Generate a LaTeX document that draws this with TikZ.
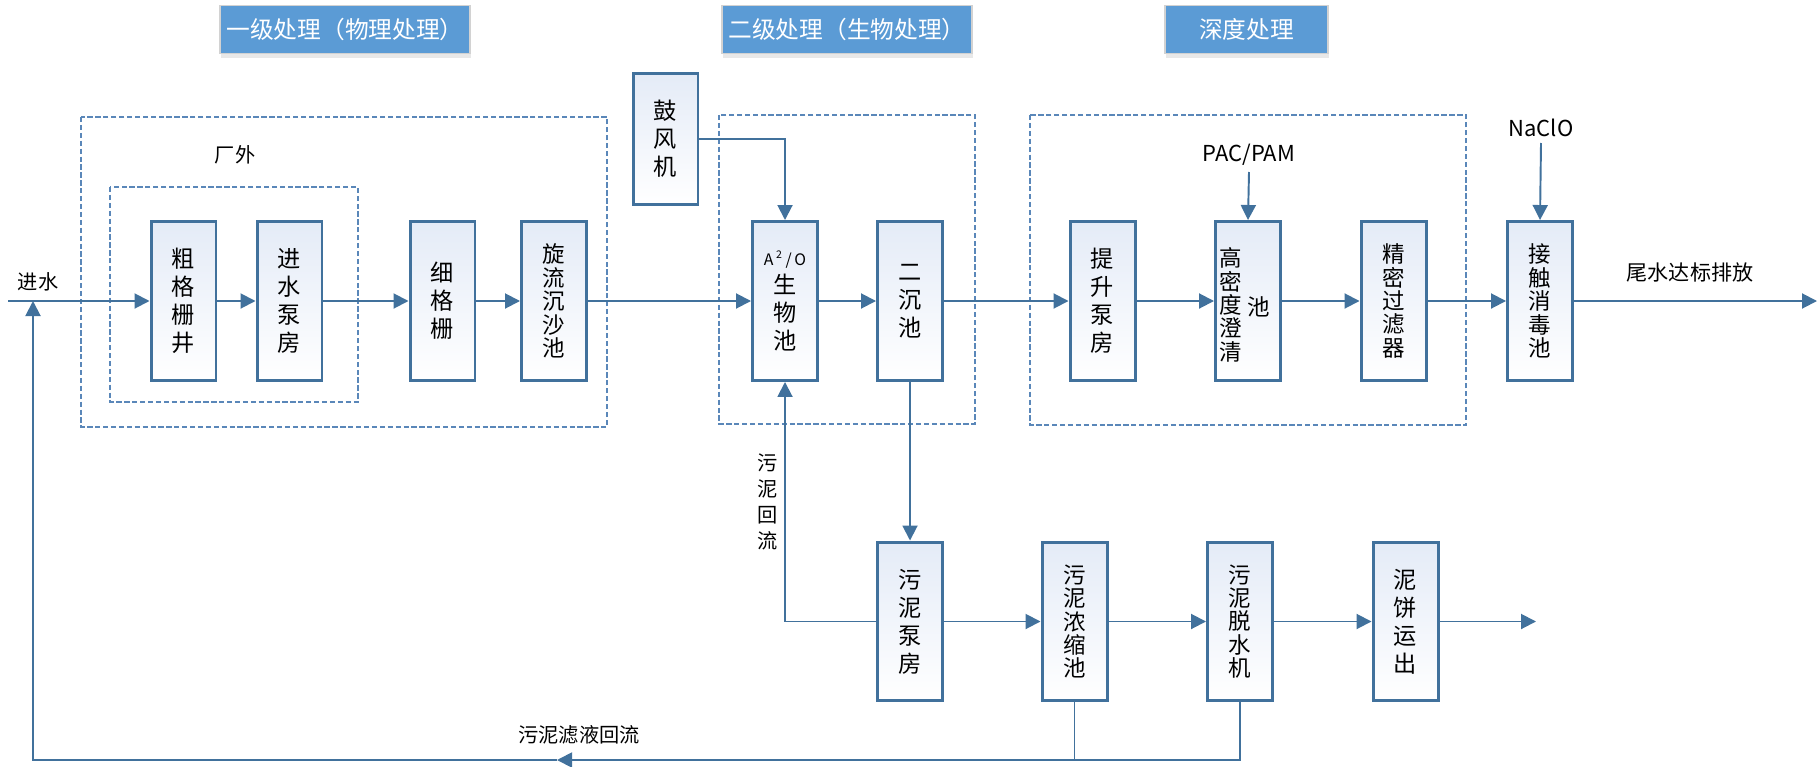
\documentclass[tikz,border=0pt]{standalone}
\usepackage{fontspec}
\setmainfont{Noto Sans CJK SC}
\usetikzlibrary{positioning}
\usetikzlibrary{arrows.meta}
\usetikzlibrary{shadows}
\definecolor{lineblue}{RGB}{65,113,156}
\definecolor{titleblue}{RGB}{91,155,213}
\definecolor{dashblue}{RGB}{90,135,185}
\definecolor{boxtop}{RGB}{228,235,247}

\begin{document}
\begin{tikzpicture}[
  x=0.02cm, y=-0.02cm,
  proc/.style={
    draw=lineblue, line width=1.7pt,
    top color=boxtop, bottom color=white,
    minimum width=1.3cm, minimum height=3.18cm,
    inner sep=0pt, align=center,
    font=\fontsize{13.2}{15.9}\selectfont
  },
  tight/.style={font=\fontsize{12.8}{13.3}\selectfont},
  title/.style={
    fill=titleblue, draw=gray!35, line width=0.8pt,
    text=white, minimum height=0.96cm, inner sep=0pt,
    font=\fontsize{13.5}{15}\selectfont,
    drop shadow={opacity=0.18, shadow xshift=0.6pt, shadow yshift=-2.5pt}
  },
  zone/.style={draw=dashblue, line width=0.6pt, dash pattern=on 3pt off 1.5pt},
  arrow/.style={draw=lineblue, line width=1.1pt, -{Triangle[length=0.3cm, width=0.3cm]}},
  pipe/.style={draw=lineblue, line width=1.1pt},
  lab/.style={inner sep=0pt, font=\fontsize{11.5}{14.7}\selectfont, align=center},
  chem/.style={inner sep=0pt, font=\fontsize{12.5}{15}\selectfont}
]
\useasboundingbox (0,0) rectangle (1818,767);

% --- Stage titles ---
\node[title, minimum width=5.0cm] (T1) at (345,29.5) {一级处理（物理处理）};
\node[title, minimum width=5.0cm] (T2) at (847,29.5) {二级处理（生物处理）};
\node[title, minimum width=3.26cm] (T3) at (1246.5,29.5) {深度处理};

% --- Dashed zones ---
\draw[zone] (81,117) rectangle (607,427);
\draw[zone] (110,187) rectangle (358,402);
\draw[zone] (719,115) rectangle (975,424);
\draw[zone] (1030,115) rectangle (1466,425);
\node[lab] (cw) at (235,155) {厂外};

% --- Main water line ---
\node[proc] (cgsj) at (183.5,301) {粗\\格\\栅\\井};
\node[proc] (jsbf) at (289.5,301) {进\\水\\泵\\房};
\node[proc] (xgs) at (442.5,301) {细\\格\\栅};
\node[proc, tight] (xlcs) at (554,301) {旋\\流\\沉\\沙\\池};
\node[proc] (swc) at (785,301) {{\fontsize{9}{10}\selectfont A\,\textsuperscript{2}\,/\,O}\\生\\物\\池};
\node[proc] (ecc) at (910,301) {二\\沉\\池};
\node[proc] (tsbf) at (1102.5,301) {提\\升\\泵\\房};
\node[proc] (gmd) at (1248,301) {};
\node[lab, tight] (gmdA) at (1231,305) {高\\密\\度\\澄\\清};
\node[lab, tight] (gmdB) at (1259,307) {池};
\node[proc, tight] (jmgl) at (1393.5,301) {精\\密\\过\\滤\\器};
\node[proc, tight] (jcxd) at (1540,301) {接\\触\\消\\毒\\池};

\node[proc, minimum height=2.64cm] (gfj) at (665.5,139) {鼓\\风\\机};

\coordinate (in) at (8,301);
\coordinate (out) at (1817,301);
\node[lab] (jinshui) at (38,282) {进水};
\node[lab, font=\fontsize{12}{14}\selectfont] (paifang) at (1690,272) {尾水达标排放};
\node[chem] (pac) at (1249,155) {PAC/PAM};
\node[chem] (naclo) at (1541,128) {NaClO};

\draw[arrow] (in) -- (cgsj.west);
\draw[arrow] (cgsj) -- (jsbf);
\draw[arrow] (jsbf) -- (xgs);
\draw[arrow] (xgs) -- (xlcs);
\draw[arrow] (xlcs) -- (swc);
\draw[arrow] (swc) -- (ecc);
\draw[arrow] (ecc) -- (tsbf);
\draw[arrow] (tsbf) -- (gmd);
\draw[arrow] (gmd) -- (jmgl);
\draw[arrow] (jmgl) -- (jcxd);
\draw[arrow] (jcxd) -- (out);

\draw[arrow] (gfj.east) -| (swc.north);
\draw[arrow] (pac.south |- 0,172) -- (gmd.north);
\draw[arrow] (naclo.south |- 0,143) -- (jcxd.north);

% --- Sludge line ---
\node[proc] (wnbf) at (910,621.5) {污\\泥\\泵\\房};
\node[proc, tight] (wnns) at (1074.5,621.5) {污\\泥\\浓\\缩\\池};
\node[proc, tight] (wnts) at (1240,621.5) {污\\泥\\脱\\水\\机};
\node[proc] (nbyc) at (1405.5,621.5) {泥\\饼\\运\\出};
\coordinate (sout) at (1536,621.5);

\draw[arrow] (ecc.south) -- (wnbf.north);
\draw[arrow] (wnbf.west) -| (swc.south);
\node[lab] (hl) at (768,502) {污\\泥\\回\\流};
\draw[arrow] (wnbf) -- (wnns);
\draw[arrow] (wnns) -- (wnts);
\draw[arrow] (wnts) -- (nbyc);
\draw[arrow] (nbyc) -- (sout);

% --- Filtrate return ---
\coordinate (rm) at (557,760);
\coordinate (rb) at (33,760);
\coordinate (rj) at (33,301);
\draw[pipe] (wnts.south) |- (wnns.south |- rb);
\draw[arrow] (wnns.south) |- (rm);
\draw[arrow] (rm) -- (rb) -- (rj);
\node[lab] (lyhl) at (579,735) {污泥滤液回流};

\end{tikzpicture}
\end{document}
